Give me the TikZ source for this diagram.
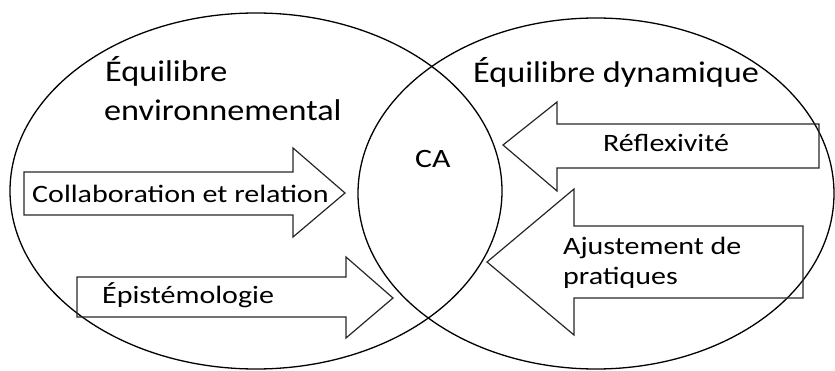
\documentclass[tikz,border=0pt]{standalone}
\usepackage{fontspec}
\setmainfont{Carlito}
\newfontfamily\titrefont[FakeStretch=1.14]{Carlito}
\newfontfamily\etiqfont[FakeStretch=1.2]{Carlito}
\begin{document}
\begin{tikzpicture}[x=1pt,y=-1pt,
  zone/.style={draw=black,line width=1.3pt},
  fleche/.style={draw=black!85,line width=1.2pt,line join=miter},
  titre/.style={anchor=base west,inner sep=0pt,font=\titrefont\fontsize{30}{36}\selectfont},
  etiquette/.style={anchor=base west,inner sep=0pt,font=\etiqfont\fontsize{25}{29}\selectfont}]
\useasboundingbox (0,0) rectangle (835,371);
% ellipses
\draw[zone] (256,191) ellipse [x radius=246,y radius=178];
\draw[zone] (596,193.5) ellipse [x radius=238,y radius=175.5];
% arrows
\draw[fleche] (24,172) -- (293,172) -- (293,148) -- (345,193) -- (293,237) -- (293,215) -- (24,215) -- cycle;
\draw[fleche] (77,277) -- (346,277) -- (346,257) -- (393,298) -- (346,338) -- (346,317) -- (77,317) -- cycle;
\draw[fleche] (819,124) -- (557,124) -- (557,102) -- (503,145) -- (557,191) -- (557,168) -- (819,168) -- cycle;
\draw[fleche] (803,226) -- (574,226) -- (574,189) -- (487,262) -- (574,335) -- (574,298) -- (803,298) -- cycle;
% texts
\node[titre] (envA) at (105,82) {Équilibre};
\node[titre] (envB) at (104,121) {environnemental};
\node[titre] (dyn) at (473,83) {Équilibre dynamique};
\node[etiquette,font=\etiqfont\fontsize{26.5}{30}\selectfont] (ca) at (415,168) {CA};
\node[etiquette] (collab) at (32,203) {Collaboration et relation};
\node[etiquette] (epis) at (102,303) {Épistémologie};
\node[etiquette] (refl) at (603,152) {Réflexivité};
\node[etiquette] (ajA) at (563,255) {Ajustement de};
\node[etiquette] (ajB) at (563,284) {pratiques};
\end{tikzpicture}
\end{document}
